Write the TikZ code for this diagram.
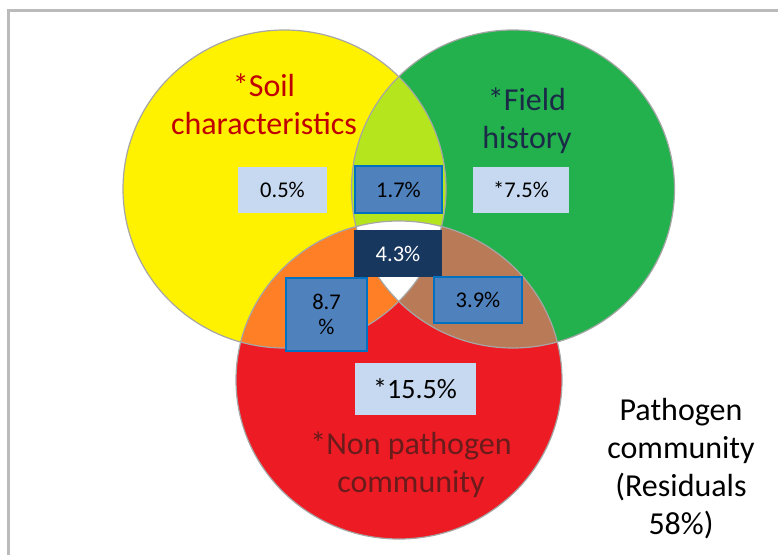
\documentclass[tikz,border=0pt]{standalone}
\usepackage{fontspec}
\setmainfont{Carlito}
\definecolor{cyellow}{HTML}{FFF200}
\definecolor{cgreen}{HTML}{22B14C}
\definecolor{cred}{HTML}{ED1C24}
\definecolor{clime}{HTML}{B5E61D}
\definecolor{corange}{HTML}{FF7F27}
\definecolor{cbrown}{HTML}{B97A57}
\definecolor{cedge}{HTML}{A6A6A6}
\definecolor{cframe}{HTML}{BBBBBB}
\definecolor{lightbox}{HTML}{C6D9F1}
\definecolor{midbox}{HTML}{4F81BD}
\definecolor{midline}{HTML}{0070C0}
\definecolor{darkbox}{HTML}{17375E}
\definecolor{soiltext}{HTML}{C00000}
\definecolor{fieldtext}{HTML}{1B2A47}
\definecolor{nptext}{HTML}{6A1B1B}
\begin{document}
\begin{tikzpicture}[x=1pt,y=-1pt,
  edge/.style={draw=cedge,line width=1.2pt},
  label/.style={align=center,inner sep=0pt,font=\fontsize{32}{38}\selectfont},
  pct/.style={inner sep=0pt,align=center,font=\fontsize{22.5}{25}\selectfont},
  pale/.style={pct,fill=lightbox,text=black},
  mid/.style={pct,fill=midbox,draw=midline,line width=2pt,text=black},
  dark/.style={pct,fill=darkbox,text=white}]
\useasboundingbox (0,0) rectangle (778,554);
\fill[white] (0,0) rectangle (778,554);

% panel frame (only the top and left edges fall inside the page)
\coordinate (fbl) at (8.5,560);
\coordinate (ftl) at (8.5,10.5);
\coordinate (ftr) at (785,10.5);
\draw[cframe,line width=2.5pt] (fbl) -- (ftl) -- (ftr);

% circle centres
\coordinate (cy) at (284.5,189);
\coordinate (cg) at (513,189);
\coordinate (cr) at (399,380);
\def\soilset{(cy) ellipse [x radius=161.5, y radius=159]}
\def\fieldset{(cg) ellipse [x radius=161.5, y radius=159]}
\def\npset{(cr) ellipse [x radius=163, y radius=159]}

% base discs
\fill[cyellow] \soilset;
\fill[cgreen] \fieldset;
\fill[cred] \npset;

% pairwise overlaps
\begin{scope}
  \clip \soilset;
  \fill[clime] \fieldset;
  \fill[corange] \npset;
\end{scope}
\begin{scope}
  \clip \fieldset;
  \fill[cbrown] \npset;
\end{scope}
% triple overlap
\begin{scope}
  \clip \soilset;
  \clip \fieldset;
  \fill[white] \npset;
\end{scope}

% outlines
\draw[edge] \soilset;
\draw[edge] \fieldset;
\draw[edge] \npset;

% set labels
\node[label,text=soiltext] (soil) at (264,104) {*Soil\\characteristics};
\node[label,text=fieldtext] (field) at (527,121) {*Field\\history};
\node[label,text=nptext] (np) at (411,465) {*Non pathogen\\community};
\node[label,text=black] (resid) at (681,469) {Pathogen\\community\\(Residuals\\58\%)};

% variance boxes
\node[pale,minimum width=89pt,minimum height=46pt] (b05) at (282.5,190) {0.5\%};
\node[mid,minimum width=87pt,minimum height=47pt] (b17) at (398.5,189.5) {1.7\%};
\node[pale,minimum width=96pt,minimum height=46pt] (b75) at (521,190) {*7.5\%};
\node[dark,minimum width=88pt,minimum height=47pt] (b43) at (398,253.5) {4.3\%};
\node[mid,minimum width=81pt,minimum height=73pt] (b87) at (326.5,314.5) {8.7\\\%};
\node[mid,minimum width=88pt,minimum height=46pt] (b39) at (478,300) {3.9\%};
\node[pale,minimum width=121pt,minimum height=52pt,font=\fontsize{28}{32}\selectfont] (b155) at (415,389) {*15.5\%};
\end{tikzpicture}
\end{document}
